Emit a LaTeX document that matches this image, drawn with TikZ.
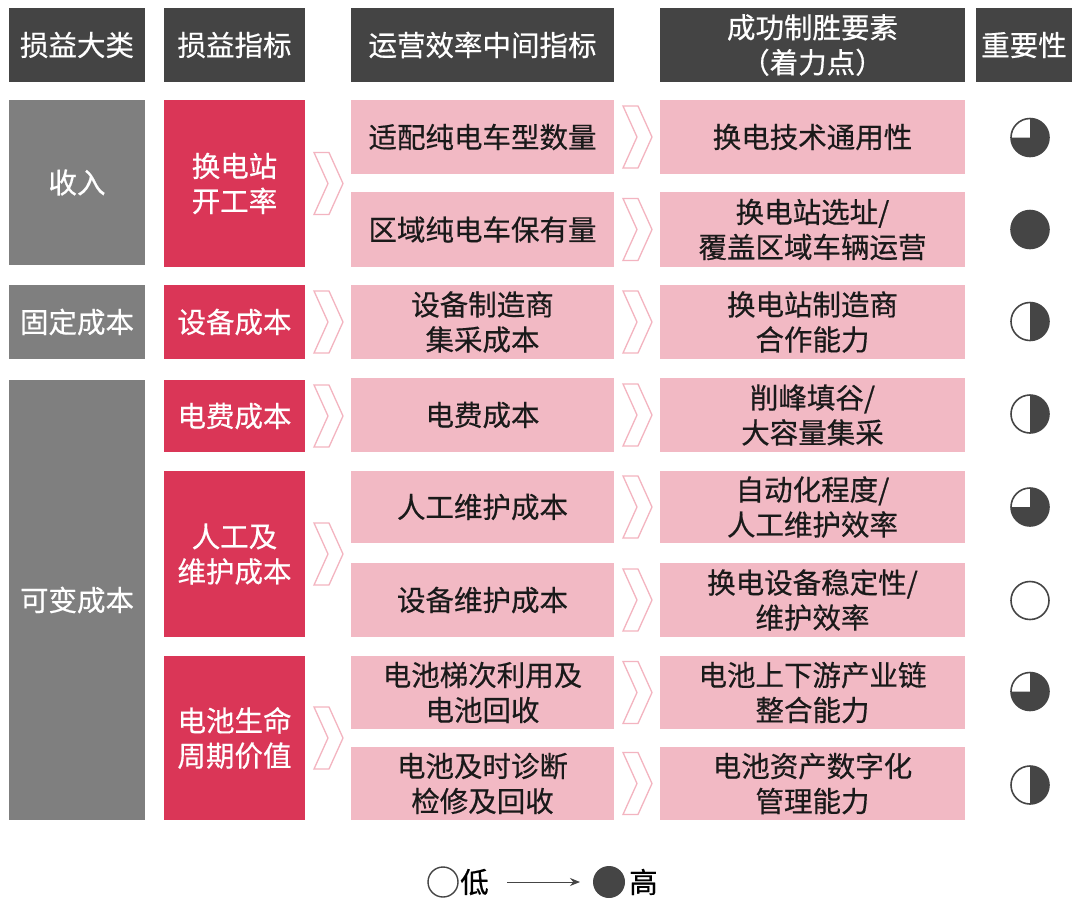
\documentclass[tikz,border=0pt]{standalone}
\usepackage{fontspec}
\setmainfont{Noto Sans CJK SC}[FakeBold=0.5]
\usetikzlibrary{arrows.meta}
\definecolor{hdrgray}{HTML}{444444}
\definecolor{catgray}{HTML}{7F7F7F}
\definecolor{kpired}{HTML}{DA3657}
\definecolor{rowpink}{HTML}{F2B9C4}
\definecolor{chevpink}{HTML}{F3B4C0}
\definecolor{balldark}{HTML}{454545}
\definecolor{txtdark}{HTML}{1A1A1A}
\tikzset{
  box/.style={inner sep=0pt, align=center, font=\fontsize{28.5}{35}\selectfont},
  hdr/.style={box, fill=hdrgray, text=white},
  cat/.style={box, fill=catgray, text=white},
  kpi/.style={box, fill=kpired, text=white},
  mid/.style={box, fill=rowpink, text=txtdark},
  chev/.style={draw=chevpink, fill=white, line width=1.3pt, line join=miter},
  ballline/.style={draw=balldark, line width=1.6pt, fill=white},
  ballfill/.style={fill=balldark},
}
\newcommand{\cell}[7]{\node[#1, minimum width=#4pt-#2pt, minimum height=#5pt-#3pt] (#6) at ({(#2+#4)/2},{(#3+#5)/2}) {#7};}
\newcommand{\chevA}[1]{\draw[chev] (314,#1-31) -- (329,#1-31) -- (343,#1) -- (329,#1+31) -- (314,#1+31) -- (328,#1) -- cycle;}
\newcommand{\chevB}[1]{\draw[chev] (623,#1-31) -- (638,#1-31) -- (652,#1) -- (638,#1+31) -- (623,#1+31) -- (637,#1) -- cycle;}
\newcommand{\ballfull}[1]{\fill[ballfill] (#1) circle[radius=19.8];}
\newcommand{\ballhalf}[1]{\draw[ballline] (#1) circle[radius=19]; \fill[ballfill] (#1) -- ++(-90:19) arc[start angle=-90, end angle=90, radius=19] -- cycle;}
\newcommand{\ballthree}[1]{\draw[ballline] (#1) circle[radius=19]; \fill[ballfill] (#1) -- ++(-90:19) arc[start angle=-90, end angle=180, radius=19] -- cycle;}
\begin{document}
\begin{tikzpicture}[x=1pt, y=-1pt]
\path[fill=white] (0,0) rectangle (1080,906);
\useasboundingbox (0,0) rectangle (1080,906);
% headers
\cell{hdr}{9}{8}{145}{82}{h1}{损益大类}
\cell{hdr}{164}{8}{305}{82}{h2}{损益指标}
\cell{hdr}{351}{8}{614}{82}{h3}{运营效率中间指标}
\cell{hdr}{660}{8}{965}{82}{h4}{成功制胜要素\\（着力点）}
\cell{hdr}{976}{8}{1072}{82}{h5}{重要性}
% categories
\cell{cat}{9}{100}{145}{265}{c1}{收入}
\cell{cat}{9}{285}{145}{359}{c2}{固定成本}
\cell{cat}{9}{380}{145}{820}{c3}{可变成本}
% kpis
\cell{kpi}{164}{100}{305}{267}{k1}{换电站\\开工率}
\cell{kpi}{164}{285}{305}{359}{k2}{设备成本}
\cell{kpi}{164}{380}{305}{452}{k3}{电费成本}
\cell{kpi}{164}{471}{305}{637}{k4}{人工及\\维护成本}
\cell{kpi}{164}{656}{305}{820}{k5}{电池生命\\周期价值}
% intermediate indicators
\cell{mid}{351}{100}{614}{174}{m1}{适配纯电车型数量}
\cell{mid}{351}{192}{614}{267}{m2}{区域纯电车保有量}
\cell{mid}{351}{285}{614}{359}{m3}{设备制造商\\集采成本}
\cell{mid}{351}{378}{614}{452}{m4}{电费成本}
\cell{mid}{351}{471}{614}{543}{m5}{人工维护成本}
\cell{mid}{351}{563}{614}{637}{m6}{设备维护成本}
\cell{mid}{351}{656}{614}{729}{m7}{电池梯次利用及\\电池回收}
\cell{mid}{351}{747}{614}{820}{m8}{电池及时诊断\\检修及回收}
% success factors
\cell{mid}{660}{100}{965}{174}{f1}{换电技术通用性}
\cell{mid}{660}{192}{965}{267}{f2}{换电站选址/\\覆盖区域车辆运营}
\cell{mid}{660}{285}{965}{359}{f3}{换电站制造商\\合作能力}
\cell{mid}{660}{378}{965}{452}{f4}{削峰填谷/\\大容量集采}
\cell{mid}{660}{471}{965}{543}{f5}{自动化程度/\\人工维护效率}
\cell{mid}{660}{563}{965}{637}{f6}{换电设备稳定性/\\维护效率}
\cell{mid}{660}{656}{965}{729}{f7}{电池上下游产业链\\整合能力}
\cell{mid}{660}{747}{965}{820}{f8}{电池资产数字化\\管理能力}
% chevrons kpi -> indicators
\chevA{183.5}
\chevA{322}
\chevA{416}
\chevA{554}
\chevA{738}
% chevrons indicators -> factors
\chevB{137}
\chevB{229.5}
\chevB{322}
\chevB{415}
\chevB{507}
\chevB{600}
\chevB{692.5}
\chevB{783.5}
% importance balls
\coordinate (b1) at (1030,137.5);
\coordinate (b2) at (1030,229.5);
\coordinate (b3) at (1030,321.5);
\coordinate (b4) at (1030,414);
\coordinate (b5) at (1030,507);
\coordinate (b6) at (1030,600.5);
\coordinate (b7) at (1030,691.5);
\coordinate (b8) at (1030,785);
\ballthree{b1}
\ballfull{b2}
\ballhalf{b3}
\ballhalf{b4}
\ballthree{b5}
\draw[ballline] (b6) circle[radius=19];
\ballthree{b7}
\ballhalf{b8}
% legend
\coordinate (lo) at (443,882);
\draw[draw=balldark, line width=1.4pt, fill=white] (lo) circle[radius=15];
\node[box, anchor=west, inner sep=0pt] (lowtxt) at (460,882) {低};
\coordinate (hi) at (609,882);
\fill[balldark] (hi) circle[radius=16];
\node[box, anchor=west, inner sep=0pt] (hightxt) at (629,882) {高};
\coordinate (a1) at (507,882);
\coordinate (a2) at (580,882);
\draw[draw=balldark, line width=1pt, -{Stealth[length=10pt, width=8pt]}] (a1) -- (a2);
\end{tikzpicture}
\end{document}
